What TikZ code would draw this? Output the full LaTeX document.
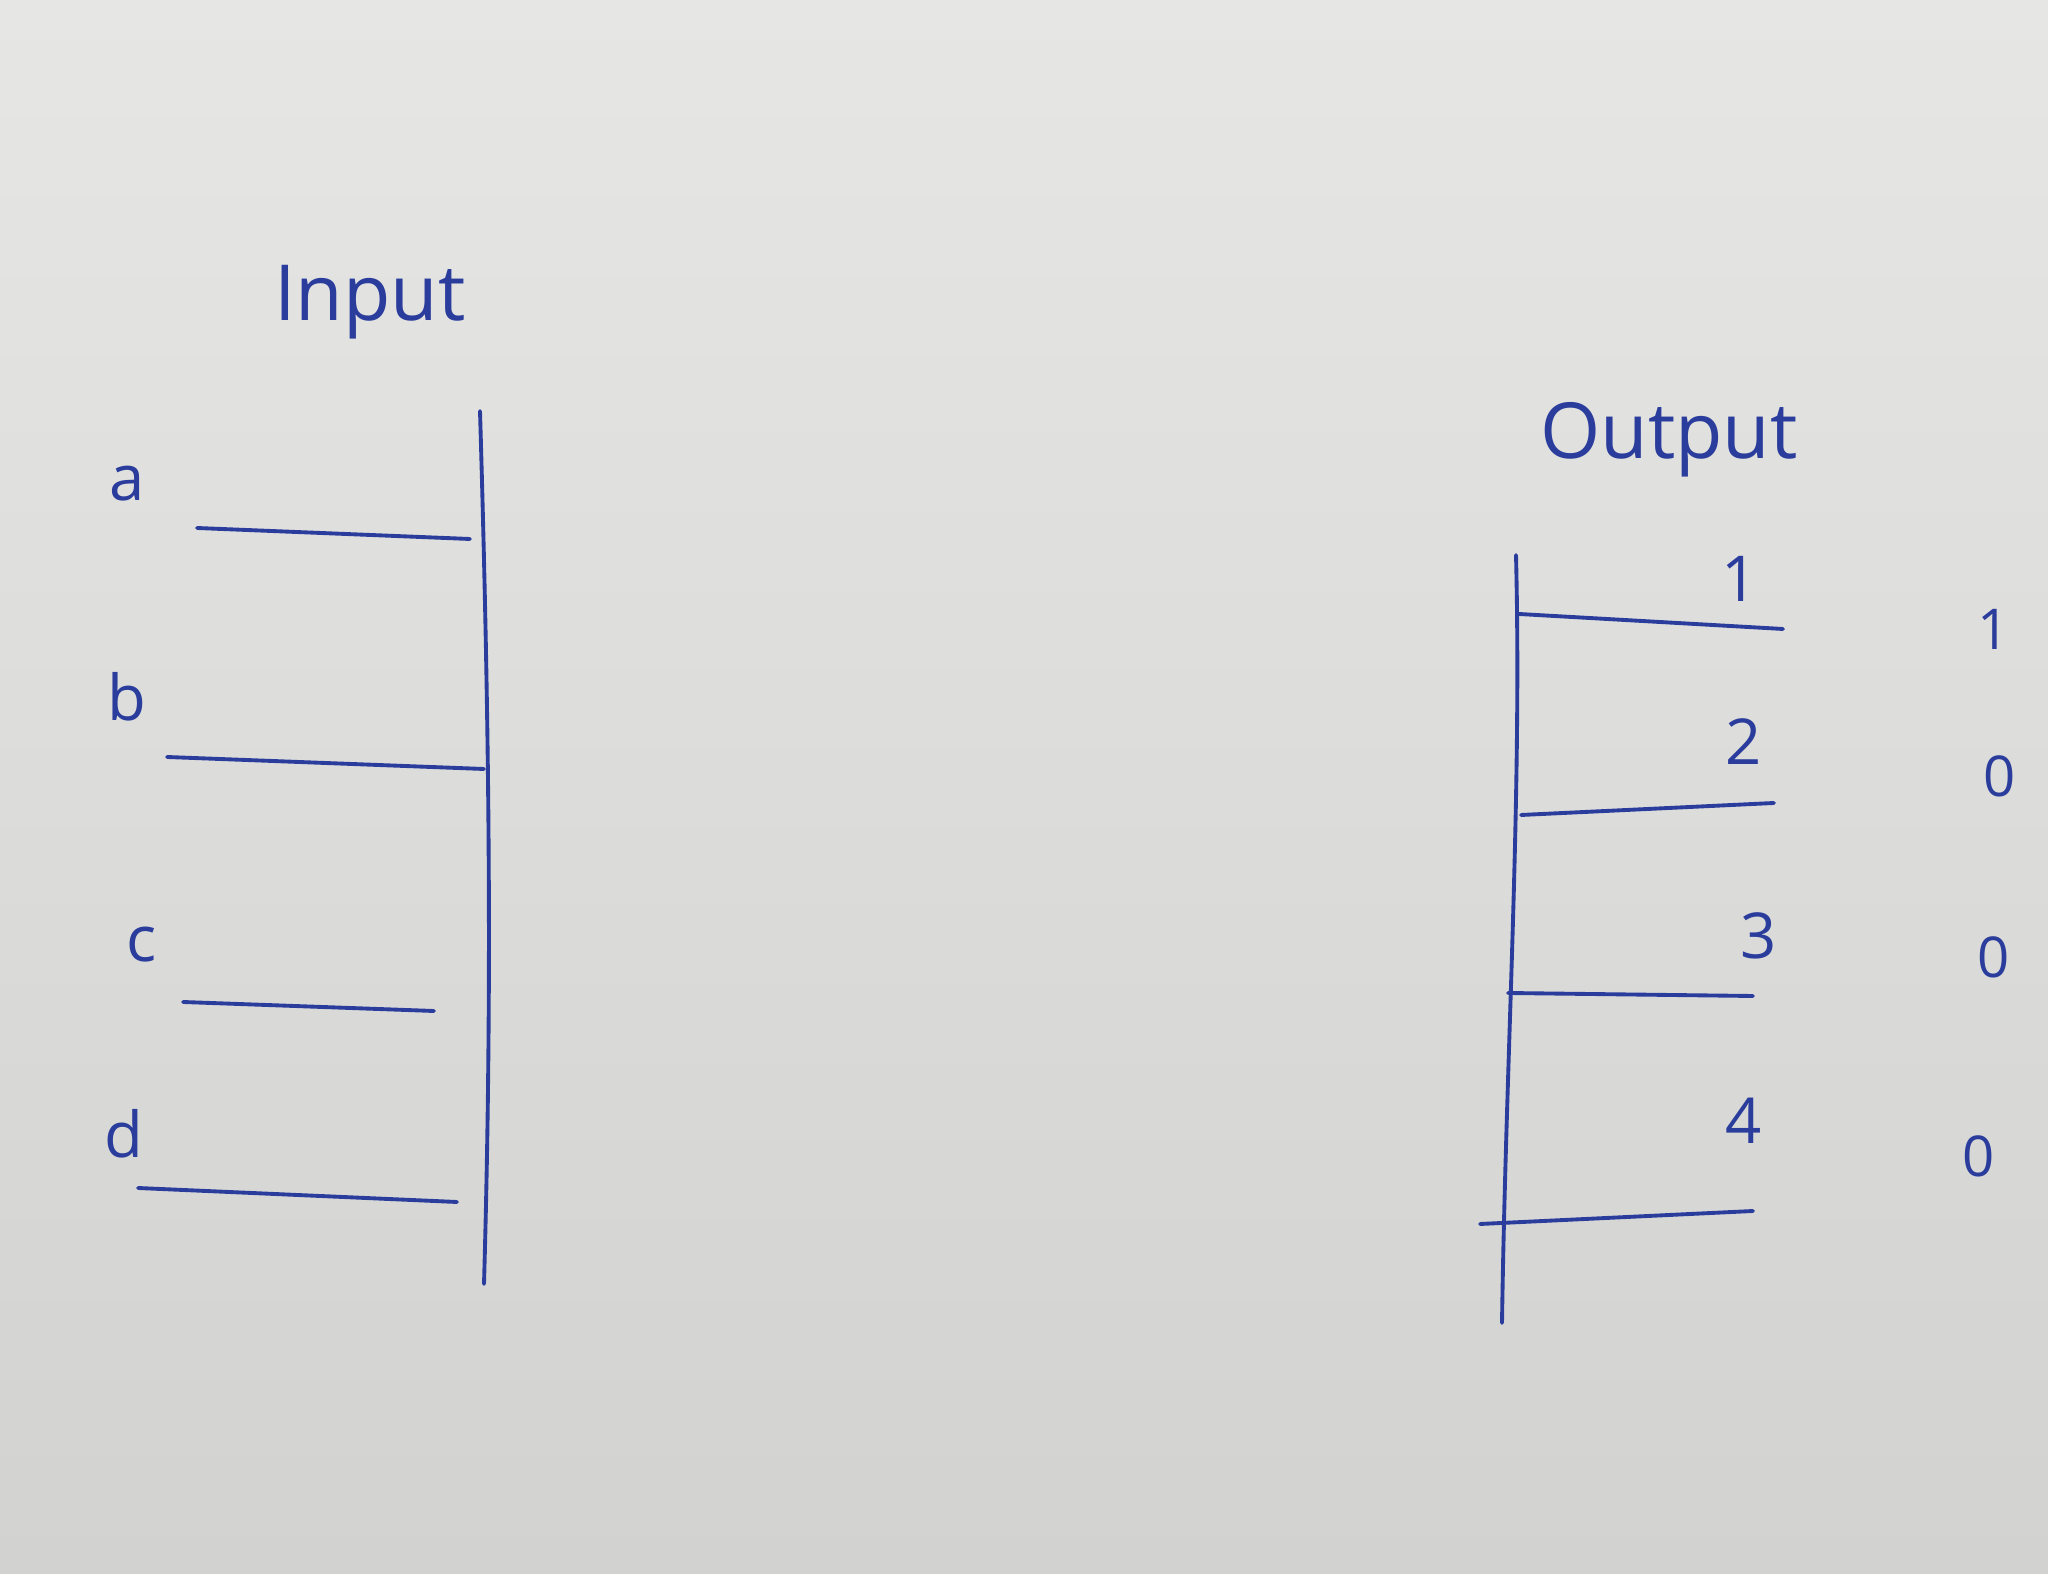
\documentclass[tikz,border=0pt]{standalone}
\usepackage{fontspec}
\setmainfont{Open Sans}
\definecolor{inkblue}{HTML}{2A3C9C}
\definecolor{bgtop}{HTML}{E6E6E4}
\definecolor{bgbot}{HTML}{D2D2D0}
\begin{document}
\begin{tikzpicture}[x=0.01cm,y=-0.01cm,
  ink/.style={draw=inkblue,line width=1.1pt,line cap=round},
  title/.style={text=inkblue,inner sep=0pt,font=\fontsize{22}{24}\selectfont},
  lbl/.style={text=inkblue,inner sep=0pt,font=\fontsize{18}{20}\selectfont},
  val/.style={text=inkblue,inner sep=0pt,font=\fontsize{16}{18}\selectfont}]
\shade[top color=bgtop,bottom color=bgbot] (0,0) rectangle (2048,1574);
\useasboundingbox (0,0) rectangle (2048,1574);
% Input side
\node[title] (input) at (370,302) {Input};
\coordinate (inTop) at (480,411);
\coordinate (inBot) at (484,1284);
\draw[ink] (inTop) .. controls (490,750) and (492,1000) .. (inBot);
\node[lbl] (la) at (127,484) {a};
\node[lbl] (lb) at (127,697) {b};
\node[lbl] (lc) at (142,945) {c};
\node[lbl] (ld) at (124,1134) {d};
\coordinate (a1) at (197,528); \coordinate (a2) at (470,539);
\coordinate (b1) at (167,757); \coordinate (b2) at (484,769);
\coordinate (c1) at (183,1002); \coordinate (c2) at (434,1011);
\coordinate (d1) at (138,1188); \coordinate (d2) at (457,1202);
\draw[ink] (a1) -- (a2);
\draw[ink] (b1) -- (b2);
\draw[ink] (c1) -- (c2);
\draw[ink] (d1) -- (d2);
% Output side
\node[title] (output) at (1669,440) {Output};
\coordinate (outTop) at (1516,555);
\coordinate (outBot) at (1502,1323);
\draw[ink] (outTop) .. controls (1522,800) and (1506,1050) .. (outBot);
\coordinate (o1a) at (1519,614); \coordinate (o1b) at (1783,629);
\coordinate (o2a) at (1521,815); \coordinate (o2b) at (1774,803);
\coordinate (o3a) at (1508,993); \coordinate (o3b) at (1753,996);
\coordinate (o4a) at (1480,1224); \coordinate (o4b) at (1753,1211);
\draw[ink] (o1a) -- (o1b);
\draw[ink] (o2a) -- (o2b);
\draw[ink] (o3a) -- (o3b);
\draw[ink] (o4a) -- (o4b);
\node[lbl] (n1) at (1740,579) {1};
\node[lbl] (n2) at (1744,742) {2};
\node[lbl] (n3) at (1759,936) {3};
\node[lbl] (n4) at (1744,1121) {4};
\node[val] (v1) at (1994,629) {1};
\node[val] (v2) at (2000,776) {0};
\node[val] (v3) at (1994,957) {0};
\node[val] (v4) at (1979,1156) {0};
\end{tikzpicture}
\end{document}
